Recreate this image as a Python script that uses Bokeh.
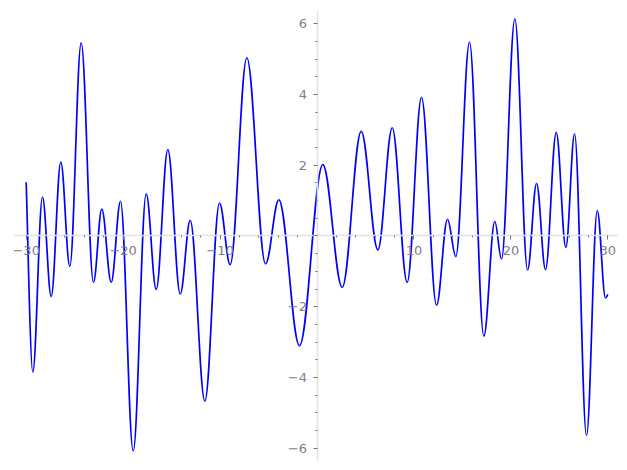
from bokeh.plotting import figure
from bokeh.models import Range1d, SingleIntervalTicker
from bokeh.embed import file_html
from bokeh.resources import INLINE

# Curve: start, local extrema, end (x, y)
curve_x = [-30.0, -29.32, -28.32, -27.42, -26.43, -25.50, -24.33, -23.06, -22.20, -21.23,
           -20.27, -18.96, -17.62, -16.59, -15.39, -14.11, -13.08, -11.57, -10.06, -8.96,
           -7.24, -5.31, -3.94, -1.81, 0.60, 2.60, 4.56, 6.28, 7.76, 9.30,
           10.78, 12.33, 13.46, 14.32, 15.73, 17.21, 18.34, 19.03, 20.41, 21.72,
           22.65, 23.57, 24.68, 25.67, 26.57, 27.80, 28.91, 29.76, 30.0]
curve_y = [1.52, -3.85, 1.10, -1.71, 2.09, -0.86, 5.46, -1.31, 0.76, -1.31,
           0.98, -6.08, 1.19, -1.51, 2.44, -1.64, 0.44, -4.67, 0.93, -0.81,
           5.04, -0.79, 1.02, -3.10, 2.02, -1.45, 2.96, -0.39, 3.06, -1.31,
           3.92, -1.96, 0.47, -0.58, 5.48, -2.83, 0.41, -0.65, 6.14, -0.96,
           1.49, -0.95, 2.93, -0.32, 2.89, -5.64, 0.72, -1.75, -1.65]

x_labels = {-30: "\u221230", -20: "\u221220", -10: "\u221210", 0: "", 10: "10", 20: "20", 30: "30"}
y_labels = {-6: "\u22126", -4: "\u22124", -2: "\u22122", 0: "", 2: "2", 4: "4", 6: "6"}

p = figure(frame_width=605, frame_height=450, output_backend="svg", toolbar_location=None,
           x_range=Range1d(-31.31, 31.10), y_range=Range1d(-6.348, 6.376),
           min_border_left=13, min_border_top=10, min_border_right=1, min_border_bottom=2)
p.outline_line_color = None
p.xgrid.visible = False
p.ygrid.visible = False
p.background_fill_color = "white"

# smooth segments: horizontal tangents at interior extrema
k = 0.3634
n = len(curve_x)
x0s, y0s, x1s, y1s, cx0, cy0, cx1, cy1 = [], [], [], [], [], [], [], []
for i in range(n - 1):
    xa, ya, xb, yb = curve_x[i], curve_y[i], curve_x[i + 1], curve_y[i + 1]
    dx = xb - xa
    x0s.append(xa); y0s.append(ya); x1s.append(xb); y1s.append(yb)
    if i == 0:
        cx0.append(xa + dx * k * 0.5); cy0.append(ya + (yb - ya) * k * 0.5)
    else:
        cx0.append(xa + dx * k); cy0.append(ya)
    if i + 1 == n - 1:
        cx1.append(xb - dx * k * 0.5); cy1.append(yb - (yb - ya) * k * 0.5)
    else:
        cx1.append(xb - dx * k); cy1.append(yb)

p.bezier(x0=x0s, y0=y0s, x1=x1s, y1=y1s, cx0=cx0, cy0=cy0, cx1=cx1, cy1=cy1,
         line_color="#0000ff", line_width=1.7)

p.xaxis.fixed_location = 0
p.yaxis.fixed_location = 0
p.xaxis.ticker = SingleIntervalTicker(interval=10, num_minor_ticks=5)
p.yaxis.ticker = SingleIntervalTicker(interval=2, num_minor_ticks=4)
p.xaxis.major_label_overrides = x_labels
p.yaxis.major_label_overrides = y_labels
for ax in (p.xaxis[0], p.yaxis[0]):
    ax.axis_line_color = "#e3e3e3"
    ax.axis_line_width = 1.6
    ax.major_tick_line_color = "#777777"
    ax.minor_tick_line_color = "#777777"
    ax.major_tick_out = 4
    ax.major_tick_in = 0
    ax.minor_tick_out = 2
    ax.minor_tick_in = 0
    ax.major_label_text_font = "DejaVu Sans"
    ax.major_label_text_font_size = "13px"
    ax.major_label_text_color = "#808080"
p.xaxis.major_label_standoff = 6
p.yaxis.major_label_standoff = 6

open("out.html", "w").write(file_html(p, INLINE))
